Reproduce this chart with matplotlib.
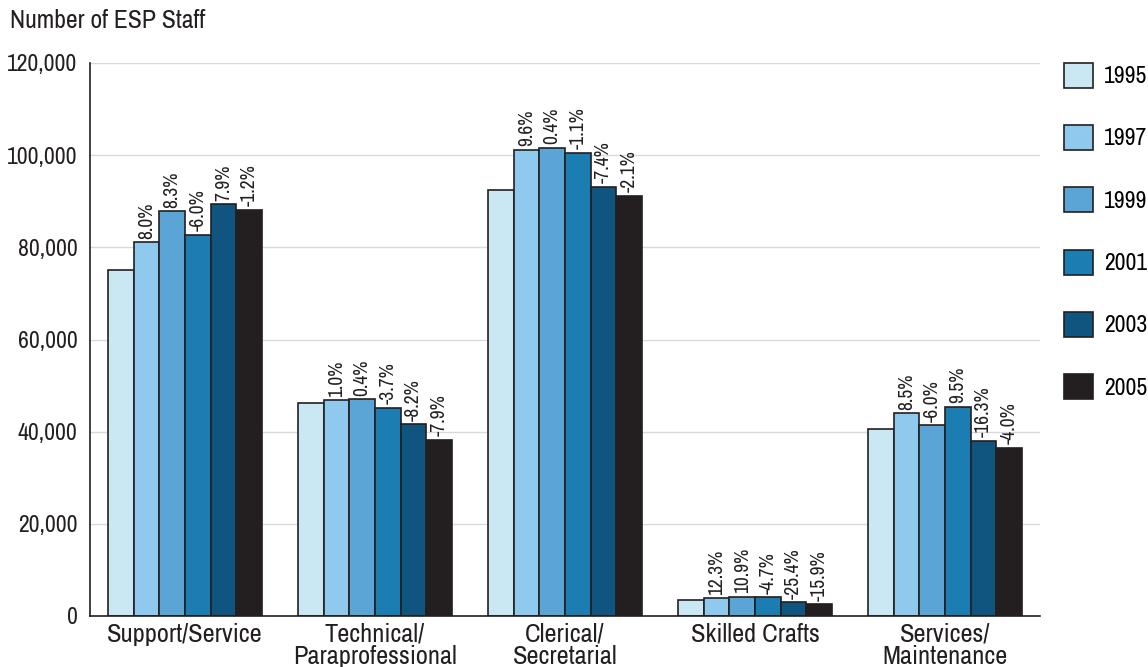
import numpy as np
import matplotlib.pyplot as plt
from matplotlib import font_manager
from matplotlib.patches import Patch

# ESP staff counts by job category, 1995-2005
categories = ['Support/Service', 'Technical/\nParaprofessional', 'Clerical/\nSecretarial',
              'Skilled Crafts', 'Services/\nMaintenance']
years = ['1995', '1997', '1999', '2001', '2003', '2005']

staff_1995 = [75100, 46300, 92400, 3400, 40600]
staff_1997 = [81100, 46800, 101200, 3800, 44000]
staff_1999 = [87800, 47000, 101600, 4230, 41400]
staff_2001 = [82700, 45200, 100500, 4040, 45400]
staff_2003 = [89300, 41600, 93100, 3010, 38000]
staff_2005 = [88200, 38300, 91200, 2530, 36500]

# percent change from the previous survey year (1997 onward)
pct_1997 = ['8.0%', '1.0%', '9.6%', '12.3%', '8.5%']
pct_1999 = ['8.3%', '0.4%', '0.4%', '10.9%', '-6.0%']
pct_2001 = ['-6.0%', '-3.7%', '-1.1%', '-4.7%', '9.5%']
pct_2003 = ['7.9%', '-8.2%', '-7.4%', '-25.4%', '-16.3%']
pct_2005 = ['-1.2%', '-7.9%', '-2.1%', '-15.9%', '-4.0%']

series = [staff_1995, staff_1997, staff_1999, staff_2001, staff_2003, staff_2005]
pcts = [None, pct_1997, pct_1999, pct_2001, pct_2003, pct_2005]
colors = ['#c9e8f4', '#8fcaee', '#5ba4d6', '#1b7db2', '#0f5580', '#231f20']
ink = '#231f20'

# prefer a narrow face if one is around, otherwise Liberation Sans
narrow = sorted(f.name for f in font_manager.fontManager.ttflist
                if 'Narrow' in f.name or 'Condensed' in f.name)
plt.rcParams['font.family'] = narrow[:1] + ['Liberation Sans', 'DejaVu Sans']

fig = plt.figure(figsize=(11.48, 6.67), dpi=100)
ax = fig.add_axes([90 / 1148, 1 - 616 / 667, 950 / 1148, 553 / 667])

x = np.arange(len(categories))
bw = 0.135
for i, vals in enumerate(series):
    pos = x + (i - 2.5) * bw
    ax.bar(pos, vals, bw, color=colors[i], edgecolor=ink, linewidth=1.2, zorder=3)
    if pcts[i] is not None:
        for px, v, lab in zip(pos, vals, pcts[i]):
            ax.annotate(lab, (px, v), xytext=(0, 2.5), textcoords='offset points',
                        rotation=90, ha='center', va='bottom', fontsize=14,
                        color=ink, zorder=4)

ax.set_xlim(-0.5, 4.5)
ax.set_ylim(0, 120000)
ax.set_yticks(range(0, 120001, 20000))
ax.set_yticklabels([f'{v:,}' for v in range(0, 120001, 20000)])
ax.set_xticks(x)
ax.set_xticklabels(categories, linespacing=0.95, fontsize=19)
ax.tick_params(length=0, colors=ink)
ax.tick_params(axis='y', pad=9, labelsize=17)
ax.tick_params(axis='x', pad=5)
ax.grid(axis='y', color='#d9d9d9', linewidth=1, zorder=0)
for s in ['top', 'right']:
    ax.spines[s].set_visible(False)
for s in ['left', 'bottom']:
    ax.spines[s].set_color(ink)
    ax.spines[s].set_linewidth(1.2)
    ax.spines[s].set_zorder(5)

fig.text(10 / 1148, 1 - 21 / 667, 'Number of ESP Staff', fontsize=18.5, color=ink,
         va='center', ha='left')

handles = [Patch(facecolor=c, edgecolor=ink, linewidth=1.2) for c in colors]
ax.legend(handles, years, loc='upper left', bbox_to_anchor=(1059 / 1148, 1 - 58 / 667),
          bbox_transform=fig.transFigure, frameon=False, fontsize=17,
          handlelength=1.25, handleheight=1.25, labelspacing=1.58, handletextpad=0.45,
          borderaxespad=0, borderpad=0.2)

fig.savefig('out.png', dpi=100)
